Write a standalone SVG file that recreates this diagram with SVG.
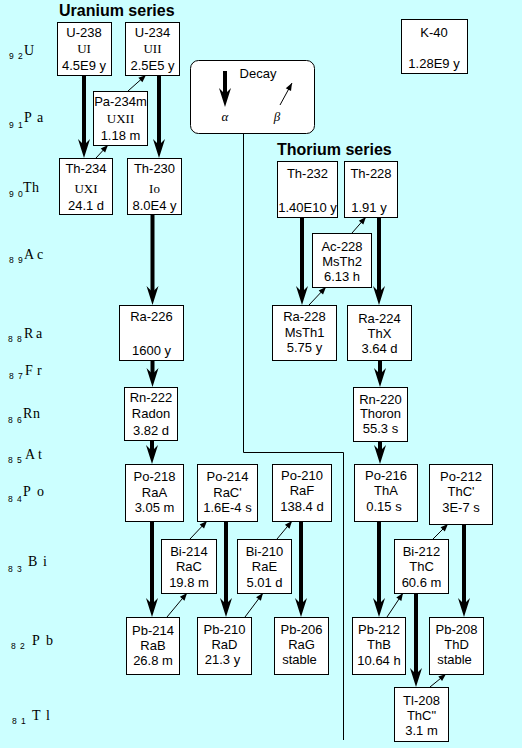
<svg xmlns="http://www.w3.org/2000/svg" width="522" height="748" viewBox="0 0 522 748">
<style>
.bg{fill:#ccffff}
.box rect{fill:#ffffff;stroke:#000;stroke-width:1}
.t{font-family:"Liberation Sans",Arial,sans-serif;font-size:13px;fill:#000;text-anchor:middle}
.sr{font-family:"Liberation Serif","Times New Roman",serif;font-size:13px;fill:#000;text-anchor:middle}
.title{font-family:"Liberation Sans",Arial,sans-serif;font-size:16px;font-weight:bold;fill:#000}
.sym{font-family:"Liberation Serif","Times New Roman",serif;font-size:14px;fill:#000}
.sub{font-family:"Liberation Sans",Arial,sans-serif;font-size:8.5px;fill:#000}
.greek{font-family:"Liberation Serif","Times New Roman",serif;font-size:13px;font-style:italic;fill:#000;text-anchor:middle}
.alpha{stroke:#000;stroke-width:4;fill:none;marker-end:url(#ha)}
.beta{stroke:#000;stroke-width:1;fill:none;marker-end:url(#hb)}
.sep{stroke:#000;stroke-width:1;fill:none}
</style>
<defs>
<marker id="ha" markerUnits="userSpaceOnUse" markerWidth="24" markerHeight="16" viewBox="-22 -8 24 16" refX="-8" refY="0" orient="auto"><path d="M0,0 L-19,-6 L-13,0 L-19,6 Z" fill="#000"/></marker>
<marker id="hb" markerUnits="userSpaceOnUse" markerWidth="10" markerHeight="8" viewBox="-9 -4 10 8" refX="0" refY="0" orient="auto"><path d="M0,0 L-7.5,-3 L-7.5,3 Z" fill="#000"/></marker>
</defs>
<rect class="bg" x="0" y="0" width="522" height="748"/>

<g id="titles">
<text class="title" x="59" y="16">Uranium series</text>
<text class="title" x="277" y="155">Thorium series</text>
</g>

<g id="element-labels">
<text class="sub" x="9 18" y="59">92</text><text class="sym" x="24" y="55">U</text>
<text class="sub" x="9 18" y="128">91</text><text class="sym" x="24 37" y="122">Pa</text>
<text class="sub" x="9 18" y="197">90</text><text class="sym" x="23 32" y="192">Th</text>
<text class="sub" x="9 18" y="263">89</text><text class="sym" x="24 37" y="259">Ac</text>
<text class="sub" x="8 17" y="342">88</text><text class="sym" x="24 36" y="338">Ra</text>
<text class="sub" x="9 18" y="379">87</text><text class="sym" x="25 37" y="375">Fr</text>
<text class="sub" x="8 17" y="423">86</text><text class="sym" x="23 33" y="418">Rn</text>
<text class="sub" x="8 17" y="463">85</text><text class="sym" x="25 38" y="459">At</text>
<text class="sub" x="8 17" y="502">84</text><text class="sym" x="23 37" y="496">Po</text>
<text class="sub" x="8 17" y="572">83</text><text class="sym" x="28 43" y="566">Bi</text>
<text class="sub" x="11 20" y="649">82</text><text class="sym" x="32 46" y="645">Pb</text>
<text class="sub" x="12 21" y="724">81</text><text class="sym" x="32 46" y="720">Tl</text>
</g>

<g id="legend">
<rect x="190.5" y="60.5" width="124" height="73" rx="8" ry="8" fill="#fff" stroke="#000"/>
<text class="t" x="258" y="78">Decay</text>
<text class="greek" x="225" y="121">α</text>
<text class="greek" x="277" y="121">β</text>
</g>

<g id="connectors">
<path class="sep" d="M243.5,133 V452.5 H343.5 V740"/>
<line class="alpha" x1="225" y1="71" x2="225" y2="99"/>
<line class="beta" x1="280" y1="105" x2="292" y2="83"/>
<line class="alpha" x1="84" y1="75" x2="84" y2="150"/>
<line class="alpha" x1="159" y1="75" x2="159" y2="150"/>
<line class="alpha" x1="152.5" y1="214" x2="152.5" y2="297"/>
<line class="alpha" x1="152.5" y1="360" x2="152.5" y2="379"/>
<line class="alpha" x1="152" y1="440" x2="152" y2="456"/>
<line class="alpha" x1="152" y1="521" x2="152" y2="609"/>
<line class="alpha" x1="226" y1="521" x2="226" y2="609"/>
<line class="alpha" x1="301" y1="521" x2="301" y2="609"/>
<line class="alpha" x1="302" y1="217" x2="302" y2="297"/>
<line class="alpha" x1="379" y1="217" x2="379" y2="297"/>
<line class="alpha" x1="380" y1="360" x2="380" y2="379"/>
<line class="alpha" x1="380" y1="441" x2="380" y2="456"/>
<line class="alpha" x1="379" y1="521" x2="379" y2="609"/>
<line class="alpha" x1="464" y1="524" x2="464" y2="609"/>
<line class="alpha" x1="416" y1="593" x2="416" y2="679"/>
<line class="beta" x1="96" y1="158" x2="108" y2="145"/>
<line class="beta" x1="128" y1="91" x2="146" y2="75"/>
<line class="beta" x1="309" y1="305" x2="326" y2="287"/>
<line class="beta" x1="352" y1="233" x2="366" y2="217"/>
<line class="beta" x1="167" y1="617" x2="187" y2="593"/>
<line class="beta" x1="190" y1="539" x2="207" y2="521"/>
<line class="beta" x1="245" y1="617" x2="263" y2="593"/>
<line class="beta" x1="277" y1="539" x2="292" y2="521"/>
<line class="beta" x1="387" y1="617" x2="403" y2="593"/>
<line class="beta" x1="433" y1="539" x2="448" y2="524"/>
<line class="beta" x1="430" y1="687" x2="446" y2="674"/>
</g>

<g id="U-238" class="box"><rect x="57.5" y="22.5" width="54" height="53"/>
<text class="t" x="84" y="37">U-238</text><text class="sr" x="84" y="53">UI</text><text class="t" x="84" y="70">4.5E9 y</text></g>
<g id="U-234" class="box"><rect x="125.5" y="22.5" width="54" height="53"/>
<text class="t" x="152.5" y="37">U-234</text><text class="sr" x="152.5" y="53">UII</text><text class="t" x="152.5" y="70">2.5E5 y</text></g>
<g id="Pa-234m" class="box"><rect x="93.5" y="91.5" width="54" height="54"/>
<text class="t" x="120.5" y="106">Pa-234m</text><text class="sr" x="120.5" y="123">UXII</text><text class="t" x="120.5" y="140">1.18 m</text></g>
<g id="Th-234" class="box"><rect x="59.5" y="158.5" width="53" height="56"/>
<text class="t" x="86" y="173">Th-234</text><text class="sr" x="86" y="193">UXI</text><text class="t" x="86" y="210">24.1 d</text></g>
<g id="Th-230" class="box"><rect x="127.5" y="158.5" width="54" height="56"/>
<text class="t" x="154.5" y="173">Th-230</text><text class="sr" x="154.5" y="193">Io</text><text class="t" x="154.5" y="210">8.0E4 y</text></g>
<g id="K-40" class="box"><rect x="401.5" y="19.5" width="66" height="54"/>
<text class="t" x="434" y="37">K-40</text><text class="t" x="434" y="68">1.28E9 y</text></g>
<g id="Ra-226" class="box"><rect x="119.5" y="305.5" width="64" height="55"/>
<text class="t" x="151.5" y="321">Ra-226</text><text class="t" x="151.5" y="355">1600 y</text></g>
<g id="Rn-222" class="box"><rect x="124.5" y="387.5" width="53" height="53"/>
<text class="t" x="151" y="402">Rn-222</text><text class="t" x="151" y="418">Radon</text><text class="t" x="151" y="435">3.82 d</text></g>
<g id="Po-218" class="box"><rect x="125.5" y="464.5" width="58" height="57"/>
<text class="t" x="154.5" y="481">Po-218</text><text class="t" x="154.5" y="497">RaA</text><text class="t" x="154.5" y="512">3.05 m</text></g>
<g id="Po-214" class="box"><rect x="197.5" y="464.5" width="60" height="57"/>
<text class="t" x="227.5" y="481">Po-214</text><text class="t" x="227.5" y="497">RaC'</text><text class="t" x="227.5" y="512">1.6E-4 s</text></g>
<g id="Po-210" class="box"><rect x="272.5" y="464.5" width="59" height="57"/>
<text class="t" x="302" y="480">Po-210</text><text class="t" x="302" y="495">RaF</text><text class="t" x="302" y="511">138.4 d</text></g>
<g id="Bi-214" class="box"><rect x="161.5" y="539.5" width="55" height="54"/>
<text class="t" x="189" y="556">Bi-214</text><text class="t" x="189" y="571">RaC</text><text class="t" x="189" y="587">19.8 m</text></g>
<g id="Bi-210" class="box"><rect x="237.5" y="539.5" width="54" height="54"/>
<text class="t" x="264.5" y="556">Bi-210</text><text class="t" x="264.5" y="571">RaE</text><text class="t" x="264.5" y="587">5.01 d</text></g>
<g id="Pb-214" class="box"><rect x="126.5" y="617.5" width="53" height="57"/>
<text class="t" x="153" y="635">Pb-214</text><text class="t" x="153" y="650">RaB</text><text class="t" x="153" y="665">26.8 m</text></g>
<g id="Pb-210" class="box"><rect x="197.5" y="617.5" width="54" height="57"/>
<text class="t" x="224.5" y="634">Pb-210</text><text class="t" x="224.5" y="649">RaD</text><text class="t" x="222.5" y="664">21.3 y</text></g>
<g id="Pb-206" class="box"><rect x="274.5" y="617.5" width="54" height="57"/>
<text class="t" x="301.5" y="634">Pb-206</text><text class="t" x="301.5" y="649">RaG</text><text class="t" x="299.5" y="664">stable</text></g>
<g id="Th-232" class="box"><rect x="277.5" y="161.5" width="60" height="56"/>
<text class="t" x="307.5" y="178">Th-232</text><text class="t" x="307.5" y="212">1.40E10 y</text></g>
<g id="Th-228" class="box"><rect x="344.5" y="161.5" width="53" height="56"/>
<text class="t" x="371" y="178">Th-228</text><text class="t" x="369" y="212">1.91 y</text></g>
<g id="Ac-228" class="box"><rect x="312.5" y="233.5" width="59" height="54"/>
<text class="t" x="342" y="251">Ac-228</text><text class="t" x="342" y="266">MsTh2</text><text class="t" x="342" y="281">6.13 h</text></g>
<g id="Ra-228" class="box"><rect x="272.5" y="305.5" width="64" height="55"/>
<text class="t" x="304.5" y="321">Ra-228</text><text class="t" x="304.5" y="337">MsTh1</text><text class="t" x="304.5" y="352">5.75 y</text></g>
<g id="Ra-224" class="box"><rect x="347.5" y="305.5" width="64" height="55"/>
<text class="t" x="379.5" y="323">Ra-224</text><text class="t" x="379.5" y="338">ThX</text><text class="t" x="379.5" y="353">3.64 d</text></g>
<g id="Rn-220" class="box"><rect x="353.5" y="387.5" width="54" height="54"/>
<text class="t" x="380.5" y="404">Rn-220</text><text class="t" x="380.5" y="418">Thoron</text><text class="t" x="380.5" y="433">55.3 s</text></g>
<g id="Po-216" class="box"><rect x="354.5" y="464.5" width="63" height="57"/>
<text class="t" x="386" y="480">Po-216</text><text class="t" x="386" y="495">ThA</text><text class="t" x="384" y="511">0.15 s</text></g>
<g id="Po-212" class="box"><rect x="429.5" y="464.5" width="63" height="60"/>
<text class="t" x="461" y="481">Po-212</text><text class="t" x="461" y="496">ThC'</text><text class="t" x="461" y="512">3E-7 s</text></g>
<g id="Bi-212" class="box"><rect x="394.5" y="539.5" width="54" height="54"/>
<text class="t" x="421.5" y="556">Bi-212</text><text class="t" x="421.5" y="571">ThC</text><text class="t" x="421.5" y="587">60.6 m</text></g>
<g id="Pb-212" class="box"><rect x="352.5" y="617.5" width="53" height="57"/>
<text class="t" x="379" y="634">Pb-212</text><text class="t" x="379" y="649">ThB</text><text class="t" x="379" y="665">10.64 h</text></g>
<g id="Pb-208" class="box"><rect x="429.5" y="617.5" width="54" height="57"/>
<text class="t" x="456.5" y="634">Pb-208</text><text class="t" x="456.5" y="649">ThD</text><text class="t" x="454.5" y="664">stable</text></g>
<g id="Tl-208" class="box"><rect x="394.5" y="687.5" width="54" height="54"/>
<text class="t" x="421.5" y="705">Tl-208</text><text class="t" x="421.5" y="720">ThC"</text><text class="t" x="421.5" y="735">3.1 m</text></g>
</svg>
